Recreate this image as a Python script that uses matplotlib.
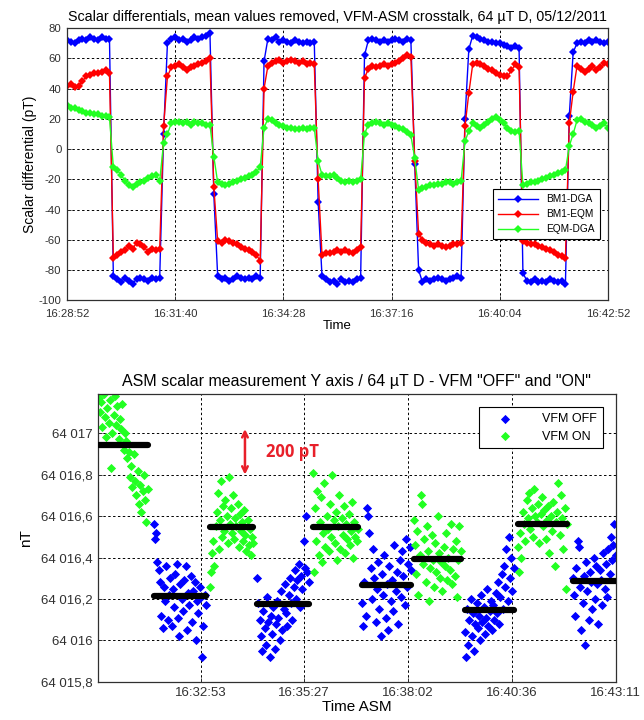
import numpy as np
import matplotlib

matplotlib.use("Agg")
import matplotlib.pyplot as plt
from matplotlib.ticker import FuncFormatter

plt.rcParams["font.family"] = ["Liberation Sans", "DejaVu Sans"]
plt.rcParams["axes.unicode_minus"] = False

# ---- top panel: scalar differentials (pT), one sample every 6 s from 16:28:52
TOP_TITLE = "Scalar differentials, mean values removed, VFM-ASM crosstalk, 64 µT D, 05/12/2011"
TOP_START = "16:28:52"
TOP_TICKS = ["16:28:52", "16:31:40", "16:34:28", "16:37:16", "16:40:04", "16:42:52"]
TOP_STEP_S = 6

BM1_DGA = [
    72, 71, 70, 72, 73, 72, 74, 73, 72, 74, 73, 73,
    -84, -86, -88, -85, -87, -89, -86, -85, -86, -87, -85, -86, -85,
    10,
    70, 73, 74, 72, 73, 71, 72, 74, 73, 74, 75, 77,
    -30,
    -84, -86, -85, -87, -86, -84, -85, -86, -85, -86, -84, -85,
    58, 73, 72, 74, 71, 72, 71, 70, 72, 71, 70, 71, 70, 71,
    -35,
    -84, -86, -88, -87, -89, -86, -88, -87, -88, -86, -85,
    62, 72, 73, 72, 71, 72, 71, 72, 73, 72, 71, 73, 72,
    -10,
    -80, -88, -86, -87, -86, -85, -86, -87, -86, -85, -84, -85,
    20,
    66, 75, 74, 73, 72, 71, 71, 70, 70, 69, 68, 67, 68, 67,
    -82, -87, -88, -86, -88, -87, -88, -86, -87, -88, -87, -89,
    22,
    64, 70, 71, 70, 72, 71, 72, 71, 70, 71,
]
BM1_EQM = [
    42, 43, 41, 42, 45, 48, 49, 50, 50, 51, 52, 50,
    -72, -70, -68, -67, -64, -66, -62, -63, -65, -68, -66, -67, -66,
    15,
    48, 54, 55, 56, 54, 52, 54, 55, 56, 57, 58, 60,
    -25,
    -61, -62, -60, -61, -62, -63, -65, -66, -67, -68, -70, -74,
    40, 55, 57, 58, 59, 57, 58, 59, 58, 57, 58, 56, 57, 56,
    -20,
    -70, -69, -69, -68, -67, -68, -67, -68, -69, -67, -65,
    47, 53, 55, 54, 55, 56, 55, 56, 57, 58, 60, 62, 61,
    -8,
    -56, -60, -62, -63, -64, -63, -64, -65, -64, -63, -63, -62,
    15,
    37, 56, 57, 56, 55, 53, 52, 50, 49, 48, 48, 52, 56, 54,
    -61, -62, -63, -63, -64, -65, -66, -67, -68, -70, -71, -72,
    17,
    38, 55, 53, 51, 53, 55, 52, 54, 57, 56,
]
EQM_DGA = [
    29, 27, 27, 26, 25, 24, 24, 23, 23, 22, 22, 21,
    -12, -14, -17, -21, -24, -25, -23, -22, -21, -19, -18, -17, -21,
    4,
    10, 17, 18, 18, 17, 18, 16, 18, 17, 17, 16, 16,
    -5,
    -22, -23, -24, -23, -22, -21, -20, -19, -18, -17, -15, -12,
    14, 20, 19, 17, 16, 15, 14, 14, 13, 13, 14, 13, 14, 14,
    -8,
    -17, -18, -18, -17, -19, -21, -22, -21, -22, -21, -20,
    10, 16, 17, 18, 17, 16, 17, 16, 15, 14, 13, 11, 9,
    -6,
    -27, -26, -25, -24, -24, -23, -23, -22, -22, -23, -22, -21,
    5,
    12, 17, 15, 14, 16, 18, 20, 21, 19, 17, 14, 12, 11, 12,
    -24, -23, -22, -22, -21, -20, -19, -18, -17, -16, -15, -14,
    2,
    10, 19, 20, 18, 17, 16, 14, 15, 17, 14,
]
TOP_LABELS = ["BM1-DGA", "BM1-EQM", "EQM-DGA"]

# ---- bottom panel: ASM Y-axis readings, offsets above 64016 nT
BOT_TITLE = 'ASM scalar measurement Y axis / 64 µT D - VFM "OFF" and "ON"'
BOT_START = "16:30:20"
BOT_TICKS = ["16:32:53", "16:35:27", "16:38:02", "16:40:36", "16:43:11"]
BASE_NT = 64016.0
BOT_YTICKS = [64015.8, 64016.0, 64016.2, 64016.4, 64016.6, 64016.8, 64017.0]

ON_SPANS = [(1, 74), (167, 231), (320, 387), (470, 540), (625, 699)]
ON_MEANS = [0.944, 0.547, 0.548, 0.395, 0.563]
ON_VALUES = [
    [1.17, 1.10, 1.15, 1.03, 1.19, 1.08, 0.98, 1.12, 1.05, 1.16, 0.83, 1.00, 1.09, 1.18,
     1.04, 1.13, 0.97, 1.07, 1.02, 1.14, 0.92, 1.00, 0.96, 0.88, 0.91, 0.79, 0.84, 0.74,
     0.90, 0.77, 0.70, 0.82, 0.66, 0.75, 0.62, 0.72, 0.80, 0.68, 0.57, 0.73],
    [0.26, 0.33, 0.42, 0.48, 0.36, 0.55, 0.62, 0.71, 0.44, 0.58, 0.77, 0.50, 0.65, 0.53,
     0.68, 0.60, 0.47, 0.79, 0.56, 0.64, 0.52, 0.70, 0.49, 0.59, 0.55, 0.66, 0.45, 0.61,
     0.53, 0.57, 0.48, 0.63, 0.51, 0.43, 0.58, 0.46, 0.54, 0.41, 0.50, 0.47],
    [0.81, 0.33, 0.64, 0.48, 0.72, 0.41, 0.57, 0.69, 0.38, 0.52, 0.76, 0.45, 0.60, 0.54,
     0.43, 0.66, 0.50, 0.80, 0.58, 0.47, 0.62, 0.39, 0.55, 0.70, 0.44, 0.59, 0.51, 0.65,
     0.42, 0.56, 0.49, 0.61, 0.46, 0.53, 0.67, 0.40, 0.57, 0.50, 0.48, 0.54],
    [0.58, 0.46, 0.32, 0.53, 0.22, 0.41, 0.70, 0.66, 0.37, 0.49, 0.28, 0.55, 0.43, 0.19,
     0.35, 0.51, 0.39, 0.26, 0.47, 0.33, 0.60, 0.42, 0.30, 0.38, 0.24, 0.45, 0.36, 0.52,
     0.29, 0.40, 0.34, 0.56, 0.27, 0.44, 0.31, 0.48, 0.21, 0.39, 0.55, 0.43],
    [0.45, 0.33, 0.52, 0.40, 0.62, 0.56, 0.48, 0.68, 0.59, 0.71, 0.54, 0.64, 0.50, 0.73,
     0.60, 0.57, 0.66, 0.47, 0.61, 0.69, 0.55, 0.63, 0.49, 0.58, 0.65, 0.42, 0.60, 0.53,
     0.67, 0.36, 0.57, 0.62, 0.76, 0.51, 0.70, 0.59, 0.44, 0.64, 0.25, 0.56],
]
OFF_SPANS = [(83, 161), (237, 314), (393, 466), (546, 619), (707, 771)]
OFF_MEANS = [0.216, 0.176, 0.265, 0.148, 0.288]
OFF_VALUES = [
    [0.56, 0.49, 0.52, 0.38, 0.34, 0.28, 0.12, 0.06, 0.26, 0.19, 0.36, 0.10, 0.22, 0.30,
     0.07, 0.25, 0.16, 0.32, 0.37, 0.11, 0.02, 0.27, 0.20, 0.14, 0.29, 0.36, 0.05, 0.23,
     0.17, 0.31, 0.09, 0.24, 0.28, 0.00, 0.19, 0.13, 0.26, 0.21, -0.08, 0.07, 0.22, 0.17],
    [0.30, 0.18, 0.10, 0.02, -0.05, 0.14, 0.06, -0.02, 0.21, 0.09, -0.08, 0.12, 0.03, 0.16,
     -0.04, 0.08, 0.19, 0.11, 0.00, 0.24, 0.05, 0.15, 0.27, 0.13, 0.07, 0.22, 0.30, 0.18,
     0.10, 0.26, 0.34, 0.20, 0.29, 0.37, 0.16, 0.31, 0.25, 0.48, 0.35, 0.60, 0.33, 0.28],
    [0.18, 0.07, 0.28, 0.12, 0.64, 0.60, 0.52, 0.35, 0.20, 0.44, 0.30, 0.09, 0.25, 0.38,
     0.15, 0.02, 0.32, 0.22, 0.41, 0.11, 0.27, 0.05, 0.36, 0.19, 0.29, 0.14, 0.46, 0.24,
     0.33, 0.08, 0.39, 0.21, 0.43, 0.31, 0.17, 0.49, 0.26, 0.37, 0.45, 0.34],
    [0.04, -0.08, 0.15, -0.02, 0.10, 0.20, 0.02, 0.13, -0.05, 0.08, 0.18, 0.06, 0.12, 0.00,
     0.22, 0.09, 0.16, 0.03, 0.11, 0.25, 0.07, 0.14, 0.19, 0.05, 0.17, 0.10, 0.23, 0.13,
     0.28, 0.08, 0.21, 0.32, 0.15, 0.36, 0.26, 0.44, 0.19, 0.50, 0.30, 0.40, 0.24, 0.35],
    [0.30, 0.22, 0.12, 0.35, 0.48, 0.45, 0.26, 0.05, 0.18, 0.31, -0.02, 0.38, 0.24, 0.10,
     0.33, 0.28, 0.15, 0.40, 0.20, 0.36, 0.27, 0.08, 0.34, 0.29, 0.17, 0.42, 0.25, 0.37,
     0.21, 0.44, 0.32, 0.50, 0.39, 0.46, 0.56, 0.41],
]

# 200 pT scale bar, in seconds / nT of the bottom axes
SCALE_BAR_T = 219
SCALE_BAR_LOW = 64016.8
SCALE_BAR_HIGH = 64017.02

BLUE = "#0000ff"
RED = "#ff0000"
GREEN = "#22ff22"
RED_NOTE = "#e8202a"
GRID_DASH = (0, (2.5, 2.5))


def _seconds(stamp: str) -> int:
    h, m, s = (int(part) for part in stamp.split(":"))
    return h * 3600 + m * 60 + s


def _nt_label(value, _pos):
    tenths = int(round(value * 10))
    whole, frac = divmod(tenths, 10)
    text = f"{whole:,}".replace(",", " ")
    return text if frac == 0 else f"{text},{frac}"


def _style(ax):
    for spine in ax.spines.values():
        spine.set_color("#303030")
        spine.set_linewidth(0.9)
    ax.tick_params(direction="in", length=3, width=0.7, colors="#303030")
    ax.grid(True, color="black", linestyle=GRID_DASH, linewidth=0.7)
    ax.set_axisbelow(True)


def _plot_top(fig):
    ax = fig.add_axes([0.104, 0.583, 0.840, 0.378])
    times = np.arange(len(BM1_DGA)) * TOP_STEP_S
    for values, color, label in zip((BM1_DGA, BM1_EQM, EQM_DGA), (BLUE, RED, GREEN), TOP_LABELS):
        ax.plot(times, values, color=color, linewidth=1.0, marker="D", markersize=4.2,
                markeredgewidth=0, label=label)
    start = _seconds(TOP_START)
    ax.set_xticks([_seconds(t) - start for t in TOP_TICKS])
    ax.set_xticklabels(TOP_TICKS)
    ax.set_xlim(0, _seconds(TOP_TICKS[-1]) - start)
    ax.set_ylim(-100, 80)
    ax.set_yticks(range(-100, 81, 20))
    _style(ax)
    ax.tick_params(labelsize=8.2)
    ax.tick_params(axis="x", pad=6)
    ax.tick_params(axis="y", pad=4)
    ax.set_title(TOP_TITLE, fontsize=10.3, pad=5)
    ax.set_xlabel("Time", fontsize=9.5, labelpad=1)
    ax.set_ylabel("Scalar differential (pT)", fontsize=10, labelpad=1)
    leg = ax.legend(loc="lower right", bbox_to_anchor=(0.995, 0.205), fontsize=7.3,
                    fancybox=False, framealpha=1, edgecolor="black", handlelength=4,
                    borderpad=0.5, labelspacing=0.5)
    leg.get_frame().set_linewidth(0.8)


def _plot_bottom(fig):
    ax = fig.add_axes([0.152, 0.053, 0.804, 0.400])
    groups = [
        (OFF_SPANS, OFF_MEANS, OFF_VALUES, BLUE, "VFM OFF"),
        (ON_SPANS, ON_MEANS, ON_VALUES, GREEN, "VFM ON"),
    ]
    for spans, means, values, color, label in groups:
        for i, ((t0, t1), vals) in enumerate(zip(spans, values)):
            ts = np.linspace(t0, t1, len(vals))
            ax.scatter(ts, BASE_NT + np.array(vals), s=22, marker="D", color=color,
                       linewidths=0, zorder=2, label=label if i == 0 else None)
    for spans, means, _values, _color, _label in groups:
        for (t0, t1), mean in zip(spans, means):
            ax.plot([t0, t1], [BASE_NT + mean] * 2, color="black", linewidth=4.5,
                    solid_capstyle="round", zorder=3)

    start = _seconds(BOT_START)
    ax.set_xticks([_seconds(t) - start for t in BOT_TICKS])
    ax.set_xticklabels(BOT_TICKS)
    ax.set_xlim(0, _seconds(BOT_TICKS[-1]) - start)
    ax.set_yticks(BOT_YTICKS)
    ax.yaxis.set_major_formatter(FuncFormatter(_nt_label))
    ax.set_ylim(64015.8, 64017.19)
    _style(ax)
    ax.tick_params(labelsize=9.5)
    ax.set_title(BOT_TITLE, fontsize=11.5, pad=6)
    ax.set_xlabel("Time ASM", fontsize=11, labelpad=1)
    ax.set_ylabel("nT", fontsize=11, labelpad=6)

    ax.annotate("", xy=(SCALE_BAR_T, SCALE_BAR_HIGH), xytext=(SCALE_BAR_T, SCALE_BAR_LOW),
                arrowprops=dict(arrowstyle="<->", color=RED_NOTE, lw=1.8,
                                shrinkA=0, shrinkB=0), zorder=4)
    ax.text(SCALE_BAR_T + 32, (SCALE_BAR_LOW + SCALE_BAR_HIGH) / 2, "200 pT",
            color=RED_NOTE, fontsize=12, fontweight="bold", ha="left", va="center",
            family=["Open Sans", "DejaVu Sans"])

    leg = ax.legend(loc="upper right", bbox_to_anchor=(0.987, 0.975), fontsize=9,
                    fancybox=False, framealpha=1, edgecolor="black", scatterpoints=1,
                    handlelength=3.2, handletextpad=1.4, borderpad=0.45, labelspacing=0.45)
    leg.get_frame().set_linewidth(0.8)
    leg.set_zorder(5)


def main():
    fig = plt.figure(figsize=(6.44, 7.2), dpi=100)
    _plot_top(fig)
    _plot_bottom(fig)
    fig.savefig("out.png", dpi=100)
    plt.close(fig)


if __name__ == "__main__":
    main()
